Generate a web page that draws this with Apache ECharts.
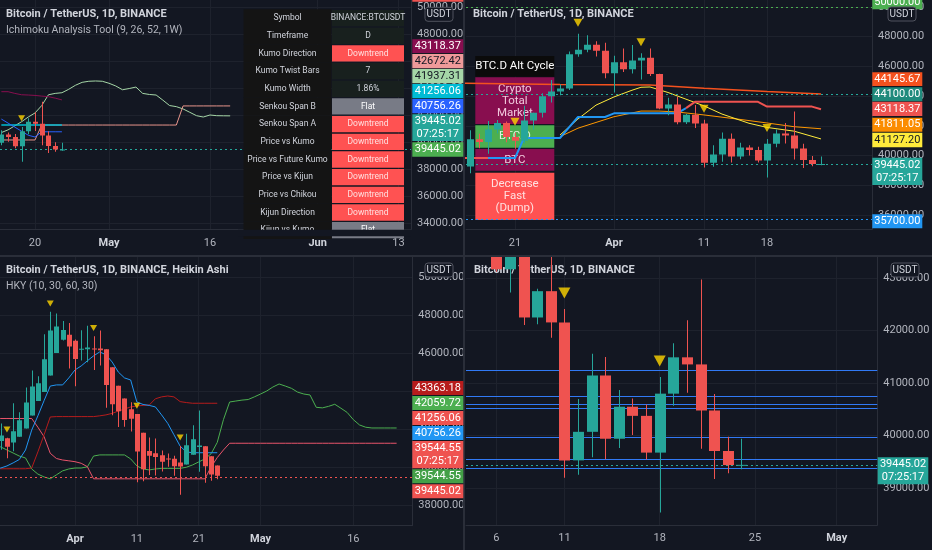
<!DOCTYPE html>
<html><head><meta charset="utf-8">
<script src="https://cdn.jsdelivr.net/npm/echarts@6/dist/echarts.min.js"></script>
<style>html,body{margin:0;padding:0;background:#131722;}#c{width:932px;height:550px;}</style>
</head><body><div id="c"></div>
<script>
// ================= DATA =================
const MON = {3:0, 4:31, 5:61, 6:92};
function day(s){ const p = s.split('-'); return MON[+p[0]] + (+p[1]) - 1; }
function span(a, b){ const r = []; for (let d = day(a); d <= day(b); d++) r.push(d); return r; }

// BTCUSDT daily candles, 2022-03-14 .. 2022-04-24
const candleDays = span('03-14', '04-24');
const open  = [37780,39671,39280,41114,40917,41757,42201,41262,41002,42364,42882,43991,44313,44512,46820,47128,47466,47063,45538,46282,45811,46407,46580,45497,43170,43444,42252,42753,42158,39530,40074,41147,39942,40552,40378,39678,40801,41493,41358,40480,39709,39441];
const high  = [39925,39887,41718,41478,42325,42400,42296,41544,43361,42893,44200,45094,44792,46999,48190,48096,47700,47600,46720,47213,47444,46890,47200,45507,43900,43970,42800,43410,42414,40699,41561,41500,40870,40709,40595,41116,41760,42199,42976,40795,39980,39940];
const low   = [37578,38098,38828,40500,40135,41499,40911,40467,40840,41751,42564,43579,44071,44421,46650,46950,46677,45200,44255,45620,45530,45118,45353,43121,42727,42107,42125,41868,39200,39254,39588,39551,39766,40015,39546,38536,40571,40820,39751,39177,39285,39360];
const close = [39671,39280,41114,40917,41757,42201,41262,41002,42364,42882,43991,44313,44512,46820,47128,47466,47063,45538,46282,45811,46407,46580,45497,43170,43444,42252,42753,42158,39530,40074,41147,39942,40552,40378,39678,40801,41493,41358,40480,39709,39441,39445];

// Heikin Ashi candles, 2022-03-19 .. 2022-04-24
const haDays = span('03-19', '04-24');
const haOpen  = [40788,41376,41522,41296,41594,42034,42722,43483,43953,44820,46009,46709,46968,46659,46179,46205,46252,46250,46204,45264,44287,43615,43049,42798,41812,40851,40722,40629,40456,40435,40242,40138,40647,41058,41100,40570,40087];
const haClose = [41964,41668,41069,41892,42473,43409,44244,44422,45688,47197,47410,47227,46350,45699,46232,46298,46249,46158,44324,43310,42943,42483,42547,40826,39889,40593,40535,40283,40414,40049,40033,41156,41468,41141,40040,39604,39547];
const haLow   = [40788,40911,40467,40840,41594,42034,42722,43483,43953,44820,46009,46677,45200,44255,45620,45530,45118,45353,43121,42727,42107,42125,41868,39200,39254,39588,39551,39766,40015,39546,38536,40138,40647,39751,39177,39285,39360];
const haHigh  = [42400,42296,41544,43361,42893,44200,45094,44792,46999,48190,48096,47700,47600,46720,47213,47444,46890,47200,46204,45264,44287,43615,43410,42798,41812,41561,41500,40870,40709,40595,41116,41760,42199,42976,41100,40570,40087];

const weeklyMarks = ['03-21','03-28','04-04','04-11','04-18'];

// Top-left: Ichimoku (9,26,52)
const tlCloudDays = span('04-15', '05-19');
const tlSpanA = [40700,40900,41200,41500,41850,42150,42700,43500,43600,43650,43900,44200,44420,44500,44520,44500,
                 44350,44150,43870,43960,44070,43600,43520,43480,43100,42700,42620,42450,42200,41950,41850,42000,41950,41940,41937];
const tlSpanB = [40150,40150,40150,40150,40150,40150,41256,41256,41256,41256,41256,41256,41256,41256,41256,41256,
                 41256,41256,41256,41256,41256,41256,41256,41256,41256,41256,41256,42672,42672,42672,42672,42672,42672,42672,42672];
const tlLineDays = span('04-15', '04-24');
const tlKijun  = [41256,41256,41256,41256,41256,41256,41256,41256,41256,41256];
const tlTenkan = [41700,41400,41100,40800,40500,40370,40756,40756,40756,40756];
const tlMaroon = [43726,43726,43600,43500,43480,43450,43400,43356,43250,43118];

// Top-right: moving averages / kijun
const trMA     = [['03-14',44880],['03-26',44780],['04-05',44760],['04-11',44540],['04-18',44310],['04-24',44146]];
const trOrange = [['03-26',41277],['03-28',41850],['04-01',42620],['04-04',43000],['04-06',43000],['04-08',42940],['04-11',42740],['04-15',42440],['04-18',42200],['04-21',41950],['04-24',41811]];
const trYellow = [['03-26',41390],['03-28',42470],['03-30',43400],['04-01',43950],['04-03',44400],['04-04',44600],['04-05',44620],['04-07',44250],['04-09',43800],['04-11',43350],['04-13',42800],['04-16',42180],['04-18',41900],['04-21',41650],['04-24',41127]];
const trKijunRedA = [['03-14',39845],['03-18',39845]];
const trKijunBlue = [['03-18',39845],['03-21',39845],['03-22',41190],['03-26',41190],['03-27',41900],['03-28',42600],['03-31',42600],['04-01',42850],['04-08',42850],['04-09',43200]];
const trKijunRedB = [['04-09',43200],['04-10',43620],['04-17',43620],['04-18',43300],['04-23',43300],['04-24',43118]];
const trLevels = [50000, 44100, 35700];

// Bottom-left: HKY (10,30,60,30)
const blCloudDays = span('03-19', '05-23');
const blSpanA = [41100,41060,40900,40740,40580,40480,39900,39630,39480,39380,39590,39800,39900,
  39950,39950,40010,40580,40640,40640,40640,40640,40640,40430,40060,39900,39850,39900,39930,39930,39930,39930,39990,40110,40270,40430,40700,41300,42500,43430,43480,43530,43560,43700,
  43850,44010,44220,44380,44270,44150,43950,43850,43800,43150,43120,43200,43310,43100,42880,42500,42220,42100,42060,42060,42060,42060,42060];
const blSpanB = [42560,42560,42560,42560,42560,42560,42560,42100,41600,40725,40450,40372,40330,
  40283,40200,40020,39380,39380,39380,39380,39380,39380,39380,39380,39380,39380,39380,39380,39380,39380,39380,39380,39380,39380,39380,40000,40500,40900,41256,41256,41256,41256,41256,
  41256,41256,41256,41256,41256,41256,41256,41256,41256,41256,41256,41256,41256,41256,41256,41256,41256,41256,41256,41256,41256,41256,41256];
const blLineDays = span('03-19', '04-24');
const blKijun  = [39910,39910,39910,39910,39910,39910,39950,40800,41700,42640,42660,42660,42660,
  42660,42660,42660,42660,42700,42750,42830,42950,43060,43170,43220,43250,43270,43600,43700,43746,43700,43450,43400,43363,43363,43363,43363,43363];
const blTenkan = [39900,39950,40060,40220,40400,40900,41950,42700,43500,44270,44330,44330,44700,
  45120,45330,45600,45860,46070,45920,45540,45010,44700,44590,43430,43300,43250,43170,42750,42300,41700,41100,40800,40756,40756,40756,40756,40756];

// Bottom-right: horizontal levels
const brLevels = [41256.06, 40756.26, 40590, 40527, 39962, 39544.55, 39371];
const lastPrice = 39445.02;

// Axis ticks
const tlXTicks = {50:'20', 61:'May', 76:'16', 92:'Jun', 104:'13'};
const trXTicks = {20:'21', 31:'Apr', 41:'11', 48:'18'};
const blXTicks = {31:'Apr', 41:'11', 51:'21', 61:'May', 76:'16'};
const brXTicks = {36:'6', 41:'11', 48:'18', 55:'25', 61:'May'};
const tlYTicks = [34000,36000,38000,40000,42000,44000,46000,48000,50000];
const trYTicks = [36000,38000,40000,42000,44000,46000,48000,50000];
const blYTicks = [38000,40000,42000,44000,46000,48000,50000];
const brYTicks = [39000,40000,41000,42000,43000];
const monthNames = ['Apr','May','Jun'];

// Texts
const titleMain = 'Bitcoin / TetherUS, 1D, BINANCE';
const titleHA = 'Bitcoin / TetherUS, 1D, BINANCE, Heikin Ashi';
const ichiName = 'Ichimoku Analysis Tool (9, 26, 52, 1W)';
const hkyName = 'HKY (10, 30, 60, 30)';
const ichiRows = [['Symbol','BINANCE:BTCUSDT'],['Timeframe','D'],['Kumo Direction','Downtrend'],['Kumo Twist Bars','7'],['Kumo Width','1.86%'],['Senkou Span B','Flat'],['Senkou Span A','Downtrend'],['Price vs Kumo','Downtrend'],['Price vs Future Kumo','Downtrend'],['Price vs Kijun','Downtrend'],['Price vs Chikou','Downtrend'],['Kijun Direction','Downtrend'],['Kijun vs Kumo','Flat']];
const btcRows = ['BTC.D Alt Cycle','Crypto\nTotal\nMarket','BTC.D','BTC','Decrease\nFast\n(Dump)'];
const tagsTL = [[''],['43118.37'],['42672.42'],['41937.31'],['41256.06'],['40756.26'],['39445.02\n07:25:17'],['39445.02']];
const tagsTR = [['50000.00'],['44145.67'],['44100.00'],['43118.37'],['41811.05'],['41127.20'],['39445.02\n07:25:17'],['35700.00']];
const tagsBL = [['43363.18'],['42059.72'],['41256.06'],['40756.26'],['39544.55\n07:25:17'],['39544.55'],['39445.02']];
const tagsBR = [['39445.02\n07:25:17']];

// ================= CHART =================
const FF = '"Liberation Sans Narrow", Roboto, sans-serif';
const BG = '#131722', GRID = '#1e222d', BORDER = '#2a2e39', LBL = '#b2b5be';
const UP = '#26A69A', DOWN = '#EF5350';
const TRI = 'path://M0,0L10,0L5,8Z';
const pairs = (ds, vs) => ds.map((d, i) => [d, vs[i]]);
const pts = arr => arr.map(p => [day(p[0]), p[1]]);

const grids = [
  {left:0, top:0, width:411, height:229.3},
  {left:466, top:0, width:406, height:229.3},
  {left:0, top:257, width:412.3, height:268.7},
  {left:466, top:257, width:411.3, height:268}
].map(g => Object.assign(g, {outerBoundsMode:'none', containLabel:false}));

function xAx(gi, min, max, ticks){
  const vals = Object.keys(ticks).map(Number);
  return {type:'value', gridIndex:gi, min, max,
    axisLine:{show:true, lineStyle:{color:BORDER}}, axisTick:{show:false, customValues:vals},
    axisLabel:{customValues:vals, margin:8, color:LBL, fontSize:11, fontFamily:FF,
      formatter:v => { const t = ticks[Math.round(v)] || ''; return monthNames.includes(t) ? '{m|'+t+'}' : t; },
      rich:{m:{fontWeight:'bold', color:'#d1d4dc', fontSize:11, fontFamily:FF}}},
    splitLine:{show:true, lineStyle:{color:GRID, width:1}}};
}
function yAx(gi, min, max, vals){
  return {type:'value', gridIndex:gi, position:'right', min, max,
    axisLine:{show:true, onZero:false, lineStyle:{color:BORDER}}, axisTick:{show:false, customValues:vals},
    axisLabel:{customValues:vals, margin:6, color:LBL, fontSize:11, fontFamily:FF, formatter:v => v.toFixed(2)},
    splitLine:{show:true, lineStyle:{color:GRID, width:1}}};
}
function line(xi, data, color, width){
  return {type:'line', xAxisIndex:xi, yAxisIndex:xi, data, symbol:'none', showSymbol:false, silent:true,
    lineStyle:{color, width}, z:3};
}
function cloud(xi, ds, a, b, upFill, downFill){
  const base = ds.map((d,i) => [d, Math.min(a[i], b[i])]);
  const g = ds.map((d,i) => [d, Math.max(a[i]-b[i], 0)]);
  const r = ds.map((d,i) => [d, Math.max(b[i]-a[i], 0)]);
  const mk = (data, fill) => ({type:'line', xAxisIndex:xi, yAxisIndex:xi, stack:'cloud'+xi, data, symbol:'none', showSymbol:false, silent:true,
    lineStyle:{width:0, opacity:0}, areaStyle: fill ? {color:fill, opacity:1} : undefined, z:2});
  return [mk(base, null), mk(g, upFill), mk(r, downFill)];
}
// candles drawn through the axis scales (api.coord), clipped to their grid
function candles(xi, ds, o, h, l, c, bw){
  return {type:'custom', xAxisIndex:xi, yAxisIndex:xi, clip:true, silent:true, z:5,
    data: ds.map((d,i) => [d, o[i], c[i], l[i], h[i]]),
    encode:{x:0, y:[1,2,3,4]},
    renderItem:(params, api) => {
      const x = api.value(0), O = api.value(1), C = api.value(2), L = api.value(3), H = api.value(4);
      const pO = api.coord([x, O]), pC = api.coord([x, C]), pL = api.coord([x, L]), pH = api.coord([x, H]);
      const col = C >= O ? UP : DOWN;
      const cx = Math.round(pO[0]) + 0.5;
      const top = Math.min(pO[1], pC[1]), bot = Math.max(pO[1], pC[1]);
      return {type:'group', children:[
        {type:'rect', shape:{x:cx-0.5, y:pH[1], width:1, height:pL[1]-pH[1]}, style:{fill:col}},
        {type:'rect', shape:{x:cx-bw/2, y:top, width:bw, height:Math.max(bot-top, 1)}, style:{fill:col}}
      ]};
    }};
}
function levels(xi, marks, z){
  return {type:'line', xAxisIndex:xi, yAxisIndex:xi, data:[[candleDays[0], lastPrice]], symbol:'none', showSymbol:false, silent:true,
    lineStyle:{width:0, opacity:0}, z:z,
    markLine:{symbol:['none','none'], silent:true, animation:false, label:{show:false}, data:marks}};
}
function tris(xi, ds, highs, size, off){
  const data = weeklyMarks.map(s => { const i = ds.indexOf(day(s)); return [day(s), highs[i]]; });
  return {type:'scatter', xAxisIndex:xi, yAxisIndex:xi, data, symbol:TRI, symbolSize:size, symbolOffset:[0, off],
    itemStyle:{color:'#FFD600'}, silent:true, z:6};
}
const dotted = (v, color) => ({yAxis:v, lineStyle:{color, type:[2,3], width:1}});
const solid = (v, color) => ({yAxis:v, lineStyle:{color, type:'solid', width:1}});

const series = [
  // top-left
  ...cloud(0, tlCloudDays, tlSpanA, tlSpanB, 'rgba(76,175,80,0.10)', 'rgba(239,83,80,0.16)'),
  line(0, pairs(tlCloudDays, tlSpanA), '#A5D6A7', 1),
  line(0, pairs(tlCloudDays, tlSpanB), '#E8958C', 1),
  line(0, pairs(tlLineDays, tlMaroon), '#880E4F', 1),
  line(0, pairs(tlLineDays, tlKijun), '#00BCD4', 1.5),
  line(0, pairs(tlLineDays, tlTenkan), '#2962FF', 1),
  levels(0, [dotted(lastPrice, UP)], 4),
  candles(0, candleDays, open, high, low, close, 5),
  tris(0, candleDays, high, [7,6], -8.6),
  // top-right
  line(1, pts(trMA), '#F4511E', 1.5),
  line(1, pts(trOrange), '#FF9800', 1),
  line(1, pts(trYellow), '#FFEB3B', 1),
  line(1, pts(trKijunRedA), '#EF5350', 2),
  line(1, pts(trKijunBlue), '#2196F3', 2),
  line(1, pts(trKijunRedB), '#EF5350', 2),
  levels(1, [dotted(trLevels[0], '#4CAF50'), dotted(trLevels[1], UP), dotted(trLevels[2], '#2196F3'), dotted(lastPrice, UP)], 4),
  candles(1, candleDays, open, high, low, close, 7),
  tris(1, candleDays, high, [9,8], -11),
  // bottom-left
  ...cloud(2, blCloudDays, blSpanA, blSpanB, 'rgba(76,175,80,0.13)', 'rgba(239,83,80,0.13)'),
  line(2, pairs(blCloudDays, blSpanA), '#4CAF50', 1),
  line(2, pairs(blCloudDays, blSpanB), '#E9546B', 1),
  line(2, pairs(blLineDays, blKijun), '#B71C1C', 1),
  line(2, pairs(blLineDays, blTenkan), '#2196F3', 1),
  levels(2, [dotted(lastPrice, DOWN)], 4),
  candles(2, haDays, haOpen, haHigh, haLow, haClose, 5),
  tris(2, haDays, haHigh, [7,6], -8.3),
  // bottom-right
  levels(3, brLevels.map(v => solid(v, '#3179F5')).concat([dotted(lastPrice, UP)]), 3),
  candles(3, candleDays, open, high, low, close, 11),
  tris(3, candleDays, high, [12,11], -16)
];

// ================= GRAPHIC (legend texts, tables, price tags) =================
function R(x, y, w, h, fill, z, o){ o = o || {};
  return {type:'rect', silent:true, z, shape:{x, y, width:w, height:h, r:o.r||0}, style:{fill, stroke:o.stroke||null, lineWidth:o.lw||0}}; }
function T(x, y, text, fill, size, z, o){ o = o || {};
  const al = o.align || 'left';
  return {type:'text', silent:true, z, x, y, style:{text, x:0, y:0, fill, font:(o.weight||'normal')+' '+size+'px '+FF,
    textAlign:al, align:al, textVerticalAlign:'middle', verticalAlign:'middle', lineHeight:o.lh||Math.round(size*1.2)}}; }

const G = [];
// separators
G.push(R(0, 255, 932, 2, BORDER, 44), R(463, 0, 2, 550, BORDER, 44));
// legends
G.push(T(6, 14.7, titleMain, '#d1d4dc', 11, 45, {weight:'bold'}), T(6, 30, ichiName, '#b2b5be', 10.5, 45));
G.push(T(473, 14.7, titleMain, '#d1d4dc', 11, 45, {weight:'bold'}));
G.push(T(6, 270.7, titleHA, '#d1d4dc', 11, 45, {weight:'bold'}), T(6, 286.3, hkyName, '#b2b5be', 10.5, 45));
G.push(T(474, 270.7, titleMain, '#d1d4dc', 11, 3, {weight:'bold'}));

// Ichimoku table (top-left)
const tblX = 243.5, tblMid = 331.5, tblR = 404.5, tblY = 9.3, rowH = 17.67;
const kinds = ['n','n','r','n','n','g','r','r','r','r','r','r','g'];
ichiRows.forEach((row, i) => {
  const y = tblY + i*rowH;
  const k = kinds[i];
  const vbg = k === 'r' ? '#FF5252' : k === 'g' ? '#787B86' : '#18201e';
  const vfg = k === 'r' ? '#ffe0e0' : k === 'g' ? '#ffffff' : '#d1d4dc';
  G.push(R(tblX, y, tblMid - tblX, rowH, '#141414', 40));
  G.push(R(tblMid + 0.5, y + 0.7, tblR - tblMid - 1, rowH - 1.4, vbg, 40));
  G.push(T((tblX + tblMid)/2, y + rowH/2, row[0], '#d1d4dc', 8.5, 40.5, {align:'center'}));
  G.push(T((tblMid + tblR)/2, y + rowH/2, row[1], vfg, 8.5, 40.5, {align:'center'}));
});
G.push(R(238, 229.8, 173, 6.5, BG, 41));

// BTC.D Alt Cycle table (top-right, under the candles)
const btcLay = [[56,20.7,'#0b0b0b','#ffffff'],[77.3,46.7,'#880E4F','#f1c9dd'],[125.3,22.4,'#4CAF50','#dff2df'],[149,21.7,'#880E4F','#f1c9dd'],[172.7,47.3,'#FF5252','#ffe0e0']];
btcRows.forEach((t, i) => {
  const L = btcLay[i];
  G.push(R(475.3, L[0], 79, L[1], L[2], 1));
  G.push(T(514.8, L[0] + L[1]/2, t, L[3], 11.5, 1.5, {align:'center', lh:12}));
});

// price tags
function tags(list, x, w, lay){
  list.forEach((t, i) => {
    const L = lay[i];
    G.push(R(x, L[0], w, L[1], L[2], 45));
    if (t[0]) G.push(T(x + w/2, L[0] + L[1]/2, t[0], L[3] || '#ffffff', 11, 45.5, {align:'center', lh:13}));
  });
}
tags(tagsTL, 412.3, 51, [[-12,13.7,'#EF5350'],[39.3,13.6,'#880E4F'],[54,14.3,'#EF9A9A','#131722'],[69,14.3,'#A5D6A7','#131722'],[84,14.3,'#00BCD4'],[99,14.3,'#2962FF'],[114.3,26.7,'#26A69A'],[142.3,14.4,'#4CAF50']]);
tags(tagsTR, 872.3, 50, [[-4.4,13.7,'#4CAF50'],[72.3,13.7,'#F4511E'],[87.3,14,'#1f8a7c'],[101.7,14.3,'#EF5350'],[117.7,14,'#FB8C00'],[132.7,14.6,'#FFEB3B','#131722'],[157.7,27.3,'#26A69A'],[214.3,14,'#2196F3']]);
tags(tagsBL, 412.3, 51, [[381,14,'#B71C1C'],[396,14,'#4CAF50'],[411,14,'#EF5350'],[426,14,'#2196F3'],[441,27.3,'#EF5350'],[469.3,14,'#43A047'],[484.3,14,'#EF5350']]);
tags(tagsBR, 877.7, 50.6, [[457.3,27,'#26A69A']]);

// USDT badges
[[425,7.3],[888,7],[425,263],[891,263]].forEach(p => {
  G.push(R(p[0], p[1], 28, 14, BG, 46, {r:3, stroke:'#50535e', lw:1}));
  G.push(T(p[0] + 14, p[1] + 7, 'USDT', '#d1d4dc', 10, 46.5, {align:'center'}));
});

const chart = echarts.init(document.getElementById('c'), null, {renderer:'canvas'});
chart.setOption({
  animation:false, backgroundColor:BG,
  grid: grids,
  xAxis: [xAx(0, 44.80, 105.87, tlXTicks), xAx(1, 14.556, 59.667, trXTicks), xAx(2, 18.874, 85.535, blXTicks), xAx(3, 33.775, 63.98, brXTicks)],
  yAxis: [yAx(0, 33533, 50519, tlYTicks), yAx(1, 35052, 50467, trYTicks), yAx(2, 36909, 51073, blYTicks), yAx(3, 38299, 43404, brYTicks)],
  series,
  graphic: {elements: G}
});
</script></body></html>
